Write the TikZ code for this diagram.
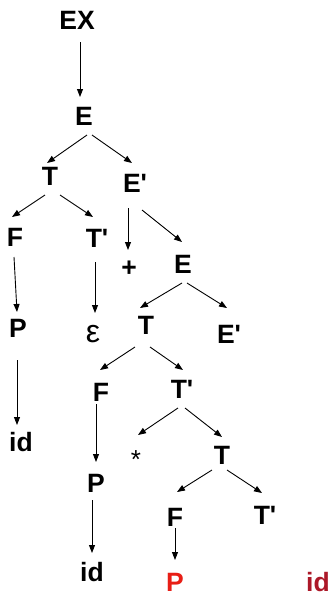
\documentclass[tikz,border=0pt]{standalone}
\usepackage{fontspec}
\setmainfont{Liberation Sans}[Ligatures=TeXOff]
\usetikzlibrary{arrows.meta}
\definecolor{redA}{RGB}{232,30,22}
\definecolor{redB}{RGB}{172,24,40}
\begin{document}
\begin{tikzpicture}[x=1pt,y=-1pt,
  lab/.style={font=\fontsize{26.5}{26.5}\selectfont\bfseries, inner sep=0pt, text height=19pt, text depth=0pt},
  thin/.style={font=\fontsize{26}{26}\selectfont, inner sep=0pt, text height=19pt, text depth=0pt},
  epsl/.style={font=\fontsize{32}{32}\selectfont, inner sep=0pt, text height=18pt, text depth=0pt},
  arr/.style={line width=0.9pt, -{Triangle[length=8pt,width=6pt]}}]
\path[use as bounding box, fill=white] (0,0) rectangle (330,597);
\node[lab] (ex) at (77,20) {EX};
\node[lab] (e1) at (84,116) {E};
\node[lab] (t1) at (50,176) {T};
\node[lab] (ep1) at (135,183) {E'};
\node[lab] (f1) at (15,237) {F};
\node[lab] (tp1) at (97,238) {T'};
\node[lab] (plus) at (129,267) {+};
\node[lab] (e2) at (183,264) {E};
\node[lab] (p1) at (18,328) {P};
\node[epsl] (eps) at (93,333) {ε};
\node[lab] (t2) at (146,325) {T};
\node[lab] (ep2) at (229,334) {E'};
\node[lab] (f2) at (101,392) {F};
\node[lab] (tp2) at (182,389) {T'};
\node[lab] (id1) at (21,442) {id};
\node[thin] (star) at (136,459) {*};
\node[lab] (t3) at (222,455) {T};
\node[lab] (p2) at (96,483) {P};
\node[lab] (f3) at (175,517) {F};
\node[lab] (tp3) at (265,515) {T'};
\node[lab] (id2) at (92,572) {id};
\node[lab, text=redA] (p3) at (175,582) {P};
\node[lab, text=redB] (id3) at (318,582) {id};
\draw[arr] ([shift={(3,22)}]ex.center) -- ([shift={(-4,-19)}]e1.center);
\draw[arr] ([shift={(3,19)}]e1.center) -- ([shift={(-3,-13)}]t1.center);
\draw[arr] ([shift={(8,19)}]e1.center) -- ([shift={(-3,-20)}]ep1.center);
\draw[arr] ([shift={(-5,19)}]t1.center) -- ([shift={(-3,-20)}]f1.center);
\draw[arr] ([shift={(10,19)}]t1.center) -- ([shift={(-4,-21)}]tp1.center);
\draw[arr] ([shift={(-7,25)}]ep1.center) -- ([shift={(-1,-17)}]plus.center);
\draw[arr] ([shift={(7,27)}]ep1.center) -- ([shift={(-1,-22)}]e2.center);
\draw[arr] ([shift={(-1,20)}]f1.center) -- ([shift={(-1,-16)}]p1.center);
\draw[arr] ([shift={(-2,24)}]tp1.center) -- ([shift={(2,-20)}]eps.center);
\draw[arr] ([shift={(-1,19)}]e2.center) -- ([shift={(-6,-17)}]t2.center);
\draw[arr] ([shift={(4,19)}]e2.center) -- ([shift={(-2,-26)}]ep2.center);
\draw[arr] ([shift={(-11,22)}]t2.center) -- ([shift={(-1,-22)}]f2.center);
\draw[arr] ([shift={(4,22)}]t2.center) -- ([shift={(1,-19)}]tp2.center);
\draw[arr] ([shift={(-1,32)}]p1.center) -- ([shift={(-4,-17)}]id1.center);
\draw[arr] ([shift={(-5,12)}]f2.center) -- ([shift={(0,-21)}]p2.center);
\draw[arr] ([shift={(-4,19)}]tp2.center) -- ([shift={(2,-24)}]star.center);
\draw[arr] ([shift={(3,19)}]tp2.center) -- ([shift={(0,-18)}]t3.center);
\draw[arr] ([shift={(-10,15)}]t3.center) -- ([shift={(2,-25)}]f3.center);
\draw[arr] ([shift={(5,15)}]t3.center) -- ([shift={(-3,-22)}]tp3.center);
\draw[arr] ([shift={(0,11)}]f3.center) -- ([shift={(0,-22)}]p3.center);
\draw[arr] ([shift={(-4,17)}]p2.center) -- ([shift={(0,-19)}]id2.center);
\end{tikzpicture}
\end{document}
